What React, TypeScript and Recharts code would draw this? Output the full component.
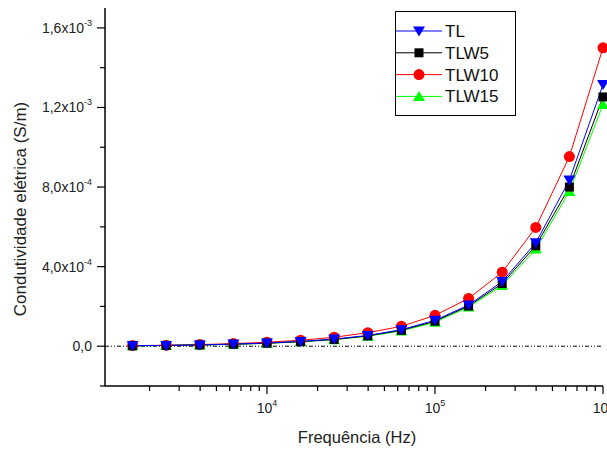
import React from "react";
import { LineChart, Line, XAxis, YAxis, ReferenceLine, Legend } from "recharts";

// frequencies (Hz), 0.2-decade steps
const frequencies = [
  1585, 2512, 3981, 6310, 10000, 15849, 25119, 39811, 63096, 100000, 158489,
  251189, 398107, 630957, 1000000,
];

// conductivity (S/m)
const tl = [
  2.5e-6, 4e-6, 6.5e-6, 1.05e-5, 1.6e-5, 2.4e-5, 3.6e-5, 5.4e-5, 8.3e-5,
  1.3e-4, 2.07e-4, 3.25e-4, 5.2e-4, 8.35e-4, 1.315e-3,
];
const tlw5 = [
  2.4e-6, 3.8e-6, 6.2e-6, 1.0e-5, 1.5e-5, 2.3e-5, 3.4e-5, 5.2e-5, 8.0e-5,
  1.26e-4, 2.02e-4, 3.15e-4, 5.05e-4, 8.0e-4, 1.253e-3,
];
const tlw10 = [
  3e-6, 5e-6, 8e-6, 1.3e-5, 2.0e-5, 3.0e-5, 4.5e-5, 6.8e-5, 1.0e-4, 1.55e-4,
  2.4e-4, 3.72e-4, 5.97e-4, 9.53e-4, 1.5e-3,
];
const tlw15 = [
  2.3e-6, 3.7e-6, 6e-6, 9.5e-6, 1.45e-5, 2.2e-5, 3.3e-5, 5.0e-5, 7.7e-5,
  1.2e-4, 1.97e-4, 3.05e-4, 4.88e-4, 7.78e-4, 1.215e-3,
];

const yTicks = [
  -2e-4, 0, 2e-4, 4e-4, 6e-4, 8e-4, 1e-3, 1.2e-3, 1.4e-3, 1.6e-3,
];
const yLabels: Record<string, [string, string]> = {
  "0": ["0,0", ""],
  "0.0004": ["4,0x10", "-4"],
  "0.0008": ["8,0x10", "-4"],
  "0.0012": ["1,2x10", "-3"],
  "0.0016": ["1,6x10", "-3"],
};

const xMajors = [10000, 100000, 1000000];
const xTicks = [
  2000, 3000, 4000, 5000, 6000, 7000, 8000, 9000, 10000, 20000, 30000, 40000,
  50000, 60000, 70000, 80000, 90000, 100000, 200000, 300000, 400000, 500000,
  600000, 700000, 800000, 900000, 1000000,
];

const rows = frequencies.map((f, i) => ({
  f,
  TL: tl[i],
  TLW5: tlw5[i],
  TLW10: tlw10[i],
  TLW15: tlw15[i],
}));

const FONT = "'Liberation Sans', Arial, sans-serif";

const Marker = ({ kind, cx, cy, color }: any) => {
  if (kind === "down")
    return (
      <polygon
        points={`${cx - 6},${cy - 4.5} ${cx + 6},${cy - 4.5} ${cx},${cy + 5.5}`}
        fill={color}
      />
    );
  if (kind === "up")
    return (
      <polygon
        points={`${cx - 6},${cy + 4.5} ${cx + 6},${cy + 4.5} ${cx},${cy - 5.5}`}
        fill={color}
      />
    );
  if (kind === "square")
    return <rect x={cx - 4.5} y={cy - 4.5} width={9} height={9} fill={color} />;
  return <circle cx={cx} cy={cy} r={5.5} fill={color} />;
};

const series = [
  { key: "TL", color: "#0000ff", kind: "down" },
  { key: "TLW5", color: "#000000", kind: "square" },
  { key: "TLW10", color: "#ff0000", kind: "circle" },
  { key: "TLW15", color: "#00ff00", kind: "up" },
];

const dotFor = (kind: string, color: string) => (props: any) => (
  <Marker key={props.key ?? `${kind}-${props.index}`} kind={kind} cx={props.cx} cy={props.cy} color={color} />
);

const YTick = (props: any) => {
  const { x, y, payload } = props;
  const lbl = yLabels[String(payload.value)];
  return (
    <g>
      <line x1={x - (lbl ? 8 : 5)} x2={x} y1={y} y2={y} stroke="#000" strokeWidth={1.2} />
      {lbl && (
        <text x={x - 13} y={y + 5} textAnchor="end" fontSize={14} fontFamily={FONT} fill="#222">
          {lbl[0]}
          {lbl[1] && (
            <tspan dy={-7} fontSize={9}>
              {lbl[1]}
            </tspan>
          )}
        </text>
      )}
    </g>
  );
};

const XTick = (props: any) => {
  const { x, y, payload } = props;
  const major = xMajors.includes(payload.value);
  const exp = Math.round(Math.log10(payload.value));
  return (
    <g>
      <line x1={x} x2={x} y1={y} y2={y + (major ? 8 : 5)} stroke="#000" strokeWidth={1.2} />
      {major && (
        <text x={x} y={y + 27} textAnchor="middle" fontSize={14} fontFamily={FONT} fill="#222">
          10
          <tspan dy={-7} fontSize={9}>
            {exp}
          </tspan>
        </text>
      )}
    </g>
  );
};

const YTitle = () => (
  <text
    x={26}
    y={209}
    transform="rotate(-90 26 209)"
    textAnchor="middle"
    fontSize={17}
    fontFamily={FONT}
    fill="#222"
  >
    Condutividade elétrica (S/m)
  </text>
);

const XTitle = () => (
  <text x={357} y={443} textAnchor="middle" fontSize={16.5} fontFamily={FONT} fill="#222">
    Frequência (Hz)
  </text>
);

const LegendBox = () => (
  <svg width={122} height={106} style={{ display: "block" }}>
    <rect x={0.5} y={0.5} width={120} height={104} fill="#fff" stroke="#000" strokeWidth={1} />
    {series.map((s, i) => {
      const cy = 20 + i * 21.8;
      return (
        <g key={s.key}>
          <line x1={1} x2={47} y1={cy} y2={cy} stroke={s.color} strokeWidth={1} />
          <Marker kind={s.kind} cx={24} cy={cy} color={s.color} />
          <text x={50} y={cy + 6} fontSize={17} fontFamily={FONT} fill="#111">
            {s.key}
          </text>
        </g>
      );
    })}
  </svg>
);

export default function App() {
  const drawOrder = [series[2], series[3], series[1], series[0]];
  return (
    <div
      style={{
        position: "absolute",
        left: 0,
        top: 0,
        width: 607,
        height: 450,
        overflow: "hidden",
        background: "#fff",
      }}
    >
      <LineChart width={607} height={450} data={rows} margin={{ top: 8, right: 4, left: 0, bottom: 0 }}>
        <XAxis
          dataKey="f"
          type="number"
          scale="log"
          domain={[1086, 1000000]}
          ticks={xTicks}
          interval={0}
          tickSize={0}
          tickMargin={0}
          tick={<XTick />}
          tickLine={false}
          axisLine={{ stroke: "#000", strokeWidth: 1.5 }}
          height={64}
          label={<XTitle />}
        />
        <YAxis
          type="number"
          domain={[-2e-4, 1.7e-3]}
          ticks={yTicks}
          interval={0}
          tickSize={0}
          tickMargin={0}
          tick={<YTick />}
          tickLine={false}
          axisLine={{ stroke: "#000", strokeWidth: 1.5 }}
          width={105}
          label={<YTitle />}
        />
        <ReferenceLine y={0} stroke="#000" strokeWidth={1} strokeDasharray="4 2 1 2 1 2" />
        {drawOrder.map((s) => (
          <Line
            key={s.key}
            dataKey={s.key}
            type="linear"
            stroke={s.color}
            strokeWidth={1}
            dot={dotFor(s.kind, s.color)}
            activeDot={false}
            isAnimationActive={false}
          />
        ))}
        <Legend
          layout="horizontal"
          verticalAlign="middle"
          align="center"
          wrapperStyle={{ left: 395, top: 11, width: 122, height: 106 }}
          content={() => <LegendBox />}
        />
      </LineChart>
    </div>
  );
}
